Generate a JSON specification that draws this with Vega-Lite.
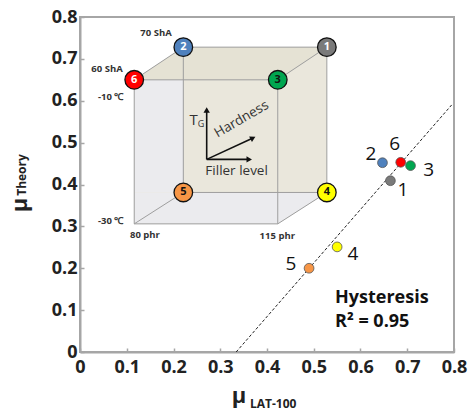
{
  "$schema": "https://vega.github.io/schema/vega-lite/v6.json",
  "width": 374,
  "height": 335,
  "autosize": {"type": "none"},
  "padding": {"left": 80, "top": 17, "right": 17, "bottom": 62},
  "background": "white",
  "config": {"view": {"stroke": "#a6a6a6", "strokeWidth": 2}, "font": "Open Sans"},
  "datasets": {
    "silh": [
      {"x": 0.116, "y": 0.650, "y2": 0.306},
      {"x": 0.221, "y": 0.728, "y2": 0.306},
      {"x": 0.423, "y": 0.728, "y2": 0.306},
      {"x": 0.528, "y": 0.728, "y2": 0.381}
    ],
    "topface": [
      {"x": 0.116, "y": 0.650, "y2": 0.650},
      {"x": 0.221, "y": 0.728, "y2": 0.650},
      {"x": 0.423, "y": 0.728, "y2": 0.650},
      {"x": 0.528, "y": 0.728, "y2": 0.728}
    ],
    "gbot": [
      {"x": 0.116, "y": 0.381, "y2": 0.306},
      {"x": 0.423, "y": 0.381, "y2": 0.306},
      {"x": 0.528, "y": 0.381, "y2": 0.381}
    ],
    "gleft": [{"x": 0.116, "x2": 0.221, "y": 0.381, "y2": 0.650}],
    "edges": [
      {"x": 0.116, "y": 0.650, "x2": 0.423, "y2": 0.650},
      {"x": 0.423, "y": 0.650, "x2": 0.423, "y2": 0.306},
      {"x": 0.423, "y": 0.306, "x2": 0.116, "y2": 0.306},
      {"x": 0.116, "y": 0.306, "x2": 0.116, "y2": 0.650},
      {"x": 0.221, "y": 0.728, "x2": 0.528, "y2": 0.728},
      {"x": 0.528, "y": 0.728, "x2": 0.528, "y2": 0.381},
      {"x": 0.528, "y": 0.381, "x2": 0.221, "y2": 0.381},
      {"x": 0.221, "y": 0.381, "x2": 0.221, "y2": 0.728},
      {"x": 0.116, "y": 0.650, "x2": 0.221, "y2": 0.728},
      {"x": 0.423, "y": 0.650, "x2": 0.528, "y2": 0.728},
      {"x": 0.423, "y": 0.306, "x2": 0.528, "y2": 0.381},
      {"x": 0.116, "y": 0.306, "x2": 0.221, "y2": 0.381}
    ],
    "arrows": [
      {"x": 0.271, "y": 0.460, "x2": 0.271, "y2": 0.580},
      {"x": 0.271, "y": 0.460, "x2": 0.362, "y2": 0.460},
      {"x": 0.271, "y": 0.460, "x2": 0.370, "y2": 0.511}
    ],
    "headUp": [{"x": 0.271, "y": 0.578}],
    "headRight": [{"x": 0.362, "y": 0.460}],
    "headDiag": [{"x": 0.370, "y": 0.511}],
    "cubeText": [
      {"t": "70 ShA", "x": 0.1626, "y": 0.762},
      {"t": "60 ShA", "x": 0.0578, "y": 0.676},
      {"t": "-10 ℃", "x": 0.0657, "y": 0.609},
      {"t": "-30 ℃", "x": 0.0657, "y": 0.3136},
      {"t": "80 phr", "x": 0.139, "y": 0.279},
      {"t": "115 phr", "x": 0.422, "y": 0.277}
    ],
    "tT": [{"t": "T", "x": 0.243, "y": 0.553}],
    "tG": [{"t": "G", "x": 0.259, "y": 0.545}],
    "tHard": [{"t": "Hardness", "x": 0.3455, "y": 0.556}],
    "tFill": [{"t": "Filler level", "x": 0.335, "y": 0.433}],
    "nodes": [
      {"id": "1", "x": 0.528, "y": 0.728},
      {"id": "2", "x": 0.221, "y": 0.728},
      {"id": "3", "x": 0.423, "y": 0.650},
      {"id": "4", "x": 0.528, "y": 0.381},
      {"id": "5", "x": 0.221, "y": 0.381},
      {"id": "6", "x": 0.116, "y": 0.650}
    ],
    "fit": [{"x": 0.334, "y": 0.0, "x2": 0.795, "y2": 0.590}],
    "pts": [
      {"id": "1", "x": 0.664, "y": 0.409},
      {"id": "2", "x": 0.647, "y": 0.452},
      {"id": "3", "x": 0.707, "y": 0.445},
      {"id": "4", "x": 0.550, "y": 0.251},
      {"id": "5", "x": 0.490, "y": 0.200},
      {"id": "6", "x": 0.686, "y": 0.453}
    ],
    "ptLabels": [
      {"id": "1", "x": 0.691, "y": 0.387},
      {"id": "2", "x": 0.6225, "y": 0.473},
      {"id": "3", "x": 0.746, "y": 0.4346},
      {"id": "4", "x": 0.584, "y": 0.234},
      {"id": "5", "x": 0.4513, "y": 0.210},
      {"id": "6", "x": 0.673, "y": 0.497}
    ],
    "hyst": [
      {"t": "Hysteresis", "x": 0.5455, "y": 0.129},
      {"t": "R² = 0.95", "x": 0.5455, "y": 0.0716}
    ],
    "xMu": [{"t": "μ", "x": 0.340, "y": -0.106}],
    "xSub": [{"t": "LAT-100", "x": 0.3636, "y": -0.123}],
    "yMu": [{"t": "μ", "x": -0.128, "y": 0.351}],
    "ySub": [{"t": "Theory", "x": -0.1248, "y": 0.4227}]
  },
  "encoding": {
    "x": {
      "field": "x", "type": "quantitative",
      "scale": {"domain": [0, 0.8], "nice": false, "zero": false},
      "axis": {
        "title": null, "values": [0, 0.1, 0.2, 0.3, 0.4, 0.5, 0.6, 0.7, 0.8], "format": ".1~f",
        "grid": false, "domainColor": "#a6a6a6", "domainWidth": 2,
        "tickColor": "#a6a6a6", "tickSize": -4, "tickWidth": 1.5,
        "labelFontSize": 18, "labelFontWeight": "bold", "labelColor": "#222", "labelPadding": 10,
        "labelFont": "Open Sans", "labelFlush": false
      }
    },
    "y": {
      "field": "y", "type": "quantitative",
      "scale": {"domain": [0, 0.8], "nice": false, "zero": false},
      "axis": {
        "title": null, "values": [0, 0.1, 0.2, 0.3, 0.4, 0.5, 0.6, 0.7, 0.8], "format": ".1~f",
        "grid": false, "domainColor": "#a6a6a6", "domainWidth": 2,
        "tickColor": "#a6a6a6", "tickSize": -4, "tickWidth": 1.5,
        "labelFontSize": 18, "labelFontWeight": "bold", "labelColor": "#222", "labelPadding": 7,
        "labelFont": "Open Sans", "labelFlush": false
      }
    }
  },
  "layer": [
    {"data": {"name": "silh"}, "mark": {"type": "area", "color": "#eae7dc", "orient": "vertical"}, "encoding": {"y2": {"field": "y2"}}},
    {"data": {"name": "topface"}, "mark": {"type": "area", "color": "#e5e2d4", "orient": "vertical"}, "encoding": {"y2": {"field": "y2"}}},
    {"data": {"name": "gbot"}, "mark": {"type": "area", "color": "#ebebee", "orient": "vertical"}, "encoding": {"y2": {"field": "y2"}}},
    {"data": {"name": "gleft"}, "mark": {"type": "rect", "color": "#ebebee"}, "encoding": {"x2": {"field": "x2"}, "y2": {"field": "y2"}}},
    {"data": {"name": "edges"}, "mark": {"type": "rule", "color": "#9e9e9e", "strokeWidth": 1}, "encoding": {"x2": {"field": "x2"}, "y2": {"field": "y2"}}},
    {"data": {"name": "arrows"}, "mark": {"type": "rule", "color": "#111", "strokeWidth": 1.6}, "encoding": {"x2": {"field": "x2"}, "y2": {"field": "y2"}}},
    {"data": {"name": "headUp"}, "mark": {"type": "point", "shape": "triangle-up", "filled": true, "color": "#111", "size": 40, "opacity": 1}},
    {"data": {"name": "headRight"}, "mark": {"type": "point", "shape": "triangle-right", "filled": true, "color": "#111", "size": 40, "opacity": 1}},
    {"data": {"name": "headDiag"}, "mark": {"type": "point", "shape": "triangle-right", "filled": true, "color": "#111", "size": 40, "opacity": 1, "angle": -27}},
    {"data": {"name": "cubeText"}, "mark": {"type": "text", "fontSize": 9.5, "fontWeight": "bold", "color": "#333", "font": "Open Sans"}, "encoding": {"text": {"field": "t"}}},
    {"data": {"name": "tT"}, "mark": {"type": "text", "fontSize": 15, "color": "#333", "font": "Open Sans"}, "encoding": {"text": {"field": "t"}}},
    {"data": {"name": "tG"}, "mark": {"type": "text", "fontSize": 9, "color": "#333", "font": "Open Sans"}, "encoding": {"text": {"field": "t"}}},
    {"data": {"name": "tHard"}, "mark": {"type": "text", "fontSize": 13.5, "color": "#333", "angle": -30, "font": "Open Sans"}, "encoding": {"text": {"field": "t"}}},
    {"data": {"name": "tFill"}, "mark": {"type": "text", "fontSize": 13.5, "color": "#333", "font": "Open Sans"}, "encoding": {"text": {"field": "t"}}},
    {"data": {"name": "nodes"}, "mark": {"type": "point", "shape": "circle", "filled": true, "size": 346, "stroke": "#111", "strokeWidth": 1.3, "opacity": 1},
     "encoding": {"color": {"field": "id", "type": "nominal", "scale": {"domain": ["1", "2", "3", "4", "5", "6"], "range": ["#7a7a7a", "#4f81bd", "#00a650", "#ffff00", "#f79646", "#ff0000"]}, "legend": null}}},
    {"data": {"name": "nodes"}, "mark": {"type": "text", "fontSize": 11, "fontWeight": "bold", "font": "Open Sans"},
     "encoding": {"text": {"field": "id"}, "color": {"condition": {"test": "indexof(['1','2','6'], datum.id) >= 0", "value": "white"}, "value": "#111"}}},
    {"data": {"name": "fit"}, "mark": {"type": "rule", "color": "#222", "strokeWidth": 1, "strokeDash": [3, 2]}, "encoding": {"x2": {"field": "x2"}, "y2": {"field": "y2"}}},
    {"data": {"name": "pts"}, "mark": {"type": "point", "shape": "circle", "filled": true, "size": 95, "stroke": "#555", "strokeWidth": 0.8, "opacity": 1},
     "encoding": {"color": {"field": "id", "type": "nominal", "legend": null}}},
    {"data": {"name": "ptLabels"}, "mark": {"type": "text", "fontSize": 19, "color": "#111", "font": "Open Sans"}, "encoding": {"text": {"field": "id"}}},
    {"data": {"name": "hyst"}, "mark": {"type": "text", "fontSize": 18, "color": "#111", "align": "left", "baseline": "middle", "font": "Open Sans", "fontWeight": "bold"}, "encoding": {"text": {"field": "t"}}},
    {"data": {"name": "xMu"}, "mark": {"type": "text", "fontSize": 22, "fontWeight": "bold", "color": "#222", "font": "Open Sans"}, "encoding": {"text": {"field": "t"}}},
    {"data": {"name": "xSub"}, "mark": {"type": "text", "fontSize": 12, "fontWeight": "bold", "color": "#222", "align": "left", "font": "Open Sans"}, "encoding": {"text": {"field": "t"}}},
    {"data": {"name": "yMu"}, "mark": {"type": "text", "fontSize": 22, "fontWeight": "bold", "color": "#222", "angle": 270, "font": "Open Sans"}, "encoding": {"text": {"field": "t"}}},
    {"data": {"name": "ySub"}, "mark": {"type": "text", "fontSize": 12, "fontWeight": "bold", "color": "#222", "angle": 270, "font": "Open Sans"}, "encoding": {"text": {"field": "t"}}}
  ]
}
